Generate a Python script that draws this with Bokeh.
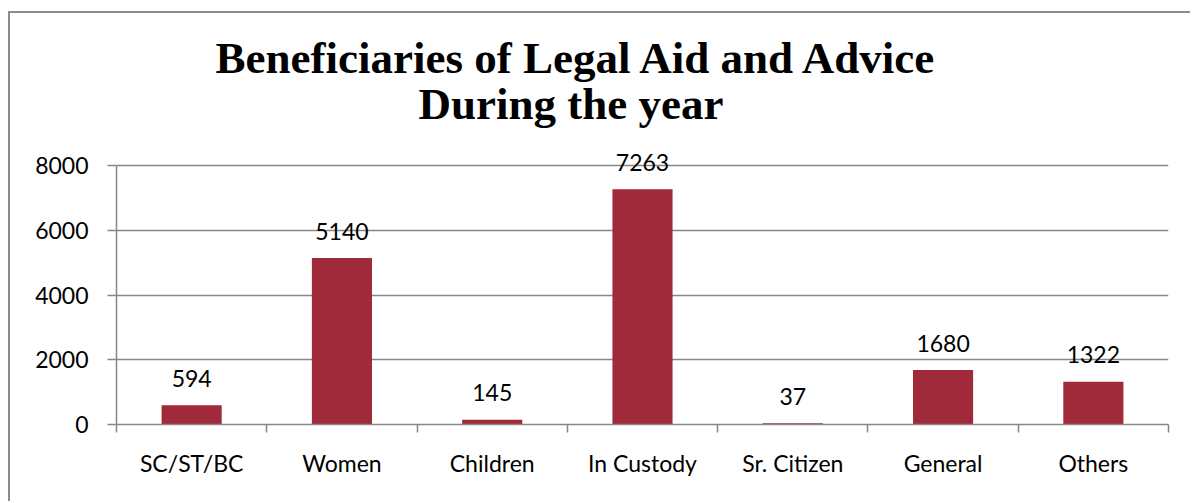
from bokeh.plotting import figure
from bokeh.models import ColumnDataSource, FixedTicker, Range1d, LabelSet, Title
from bokeh.embed import file_html
from bokeh.resources import INLINE
from bokeh.core.properties import value

categories = ["SC/ST/BC", "Women", "Children", "In Custody", "Sr. Citizen", "General", "Others"]
counts = [594, 5140, 145, 7263, 37, 1680, 1322]
y_ticks = [0, 2000, 4000, 6000, 8000]
title_lines = ["Beneficiaries of Legal Aid and Advice", "During the year"]

n = len(categories)
centers = [i + 0.5 for i in range(n)]
bounds = list(range(n + 1))

extra_px = 40
y_top = 8000 * (1 + extra_px / 259.0)

source = ColumnDataSource(dict(x=centers, top=counts, label=[str(c) for c in counts], cat=categories))

p = figure(width=1182, height=490, output_backend="svg", toolbar_location=None,
           x_range=Range1d(0, n), y_range=Range1d(0, y_top),
           min_border_left=106, min_border_right=24, min_border_top=152 - extra_px,
           min_border_bottom=79)
p.styles = {"border-left": "2px solid #8c8c8c", "border-top": "2px solid #8c8c8c",
            "margin-top": "11px", "margin-left": "8px"}
p.outline_line_color = None
p.background_fill_color = "white"
p.border_fill_color = "white"

p.vbar(x="x", top="top", width=0.4, source=source, fill_color="#A0293A", line_color=None)

labels = LabelSet(x="x", y="top", text="label", source=source, text_align="center",
                  text_baseline="middle", y_offset=27, text_font=value("Lato"),
                  text_font_size="23px", text_color="black")
p.add_layout(labels)

# y axis
p.yaxis.ticker = FixedTicker(ticks=y_ticks)
p.yaxis.bounds = (0, 8000)
p.yaxis.axis_line_color = "#868686"
p.yaxis.axis_line_width = 1.5
p.yaxis.major_tick_line_color = "#868686"
p.yaxis.major_tick_line_width = 1.5
p.yaxis.major_tick_out = 9
p.yaxis.major_tick_in = 0
p.yaxis.minor_tick_line_color = None
p.yaxis.major_label_standoff = 19
p.yaxis.major_label_text_font = "Lato"
p.yaxis.major_label_text_font_size = "23px"
p.yaxis.major_label_text_color = "black"

# x axis
p.xaxis.ticker = FixedTicker(ticks=centers, minor_ticks=bounds)
p.xaxis.major_label_overrides = {c: cat for c, cat in zip(centers, categories)}
p.xaxis.axis_line_color = "#868686"
p.xaxis.axis_line_width = 1.5
p.xaxis.major_tick_line_color = None
p.xaxis.major_tick_out = 0
p.xaxis.major_tick_in = 0
p.xaxis.minor_tick_line_color = "#868686"
p.xaxis.minor_tick_line_width = 1.5
p.xaxis.minor_tick_out = 8
p.xaxis.minor_tick_in = 0
p.xaxis.major_label_standoff = 16
p.xaxis.major_label_text_font = "Lato"
p.xaxis.major_label_text_font_size = "23px"
p.xaxis.major_label_text_color = "black"

p.xgrid.grid_line_color = None
p.ygrid.ticker = FixedTicker(ticks=y_ticks)
p.ygrid.grid_line_color = "#868686"
p.ygrid.grid_line_width = 1.5

# two-line title
p.add_layout(Title(text=title_lines[1], align="left", offset=302, standoff=-6,
                   text_font="Liberation Serif", text_font_style="bold",
                   text_font_size="45px", text_color="black"), "above")
p.add_layout(Title(text=title_lines[0], align="left", offset=99, standoff=-6,
                   text_font="Liberation Serif", text_font_style="bold",
                   text_font_size="45px", text_color="black"), "above")

open("out.html", "w").write(file_html(p, INLINE))
